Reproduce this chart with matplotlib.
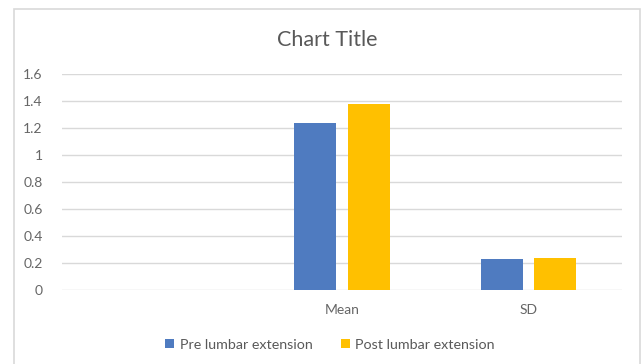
import matplotlib.pyplot as plt
import matplotlib.patches as patches
import numpy as np

# data
categories = ["", "Mean", "SD"]
pre_values = [np.nan, 1.24, 0.23]
post_values = [np.nan, 1.38, 0.24]
series_names = ["Pre lumbar extension", "Post lumbar extension"]
y_ticks = [0, 0.2, 0.4, 0.6, 0.8, 1.0, 1.2, 1.4, 1.6]
y_labels = ["0", "0.2", "0.4", "0.6", "0.8", "1", "1.2", "1.4", "1.6"]

plt.rcParams['font.family'] = ['Lato', 'DejaVu Sans']

fig = plt.figure(figsize=(6.41, 3.64), dpi=100)
fig.patch.set_facecolor('white')

# light frame around the chart
frame = patches.Rectangle((14 / 641, -0.05), 626 / 641, 1 - 9 / 364 + 0.05,
                          transform=fig.transFigure, fill=False,
                          edgecolor='#d9d9d9', linewidth=1.2)
fig.add_artist(frame)

ax = fig.add_axes([62 / 641, 1 - 290 / 364, 560 / 641, 216 / 364])

x = np.arange(len(categories))
w = 0.225
off = 0.143
ax.bar(x - off, pre_values, w, color='#4f7bc0', label=series_names[0], zorder=3)
ax.bar(x + off, post_values, w, color='#ffc000', label=series_names[1], zorder=3)

ax.set_xlim(-0.5, 2.5)
ax.set_ylim(0, 1.6)
ax.set_yticks(y_ticks)
ax.set_yticklabels(y_labels)
ax.set_xticks(x)
ax.set_xticklabels(categories)

ax.grid(axis='y', color='#d9d9d9', linewidth=1, zorder=0)
for s in ax.spines.values():
    s.set_visible(False)
ax.tick_params(axis='both', length=0, colors='#666666', labelsize=10)
ax.tick_params(axis='y', pad=14)
ax.tick_params(axis='x', pad=10)

fig.text(327 / 641, 1 - 40 / 364, "Chart Title", ha='center', va='center',
         fontsize=15.5, color='#595959')

fig.legend(loc='center', bbox_to_anchor=(330 / 641, 1 - 345 / 364), ncol=2,
           frameon=False, fontsize=10.3, labelcolor='#595959',
           handlelength=0.6, handleheight=0.6, handletextpad=0.4,
           columnspacing=2.0)

fig.savefig('out.png', dpi=100)
